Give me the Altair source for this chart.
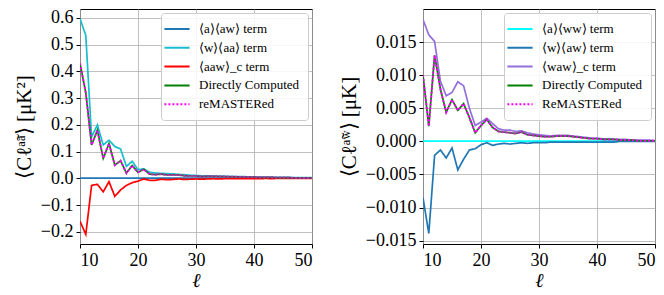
import altair as alt
import pandas as pd

ell = list(range(10, 51))

# Left panel series
left_a_aw = [0.001] * 41
left_w_aa = [0.597, 0.534, 0.155, 0.200, 0.125, 0.143, 0.119, 0.110, 0.045, 0.064,
             0.033, 0.036, 0.023, 0.020, 0.019, 0.018, 0.017, 0.015, 0.014, 0.012,
             0.011, 0.010, 0.010, 0.009, 0.009, 0.008, 0.008, 0.007, 0.007, 0.006,
             0.006, 0.005, 0.005, 0.005, 0.004, 0.004, 0.004, 0.003, 0.003, 0.003, 0.003]
left_aaw_c = [-0.160, -0.209, -0.026, -0.022, -0.050, -0.012, -0.067, -0.043, -0.026, -0.016,
              -0.010, -0.002, -0.007, -0.007, -0.003, -0.005, -0.004, -0.002, -0.004, -0.003,
              -0.002, -0.003, -0.002, -0.001, -0.002, -0.001, -0.001, -0.001, -0.001, -0.001,
              -0.001, -0.001, 0.000, -0.001, 0.000, 0.000, 0.000, 0.000, 0.000, 0.000, 0.000]
left_direct = [0.430, 0.320, 0.125, 0.180, 0.075, 0.130, 0.050, 0.066, 0.020, 0.048,
               0.023, 0.034, 0.016, 0.014, 0.016, 0.013, 0.013, 0.013, 0.010, 0.009,
               0.009, 0.007, 0.008, 0.008, 0.007, 0.007, 0.006, 0.006, 0.005, 0.005,
               0.005, 0.004, 0.004, 0.004, 0.003, 0.003, 0.003, 0.002, 0.002, 0.002, 0.002]
left_remastered = left_direct

# Right panel series
right_a_ww = [0.00003] * 41
right_w_aw = [-0.0085, -0.0139, -0.0021, -0.0013, -0.0025, -0.0010, -0.0043, -0.0027, -0.0013, -0.0011,
              -0.0005, -0.0002, -0.0006, -0.0004, -0.0003, -0.0004, -0.0003, -0.0002, -0.0003, -0.0002,
              -0.0002, -0.0002, -0.0001, -0.0001, -0.0001, -0.0001, -0.0001, -0.0001, -0.0001, -0.0001,
              -0.0001, -0.0001, -0.0001, -0.0001, 0.0000, 0.0000, 0.0000, 0.0000, 0.0000, 0.0000, 0.0000]
right_waw_c = [0.0184, 0.0161, 0.0151, 0.0091, 0.0069, 0.0074, 0.0090, 0.0084, 0.0050, 0.0024,
               0.0029, 0.0035, 0.0027, 0.0019, 0.0017, 0.0017, 0.0015, 0.0016, 0.0013, 0.0011,
               0.0010, 0.0009, 0.0008, 0.0009, 0.0009, 0.0009, 0.0008, 0.0007, 0.0006, 0.0005,
               0.0005, 0.0004, 0.0004, 0.0003, 0.0003, 0.0003, 0.0002, 0.0002, 0.0002, 0.0002, 0.0001]
right_direct = [0.0100, 0.0023, 0.0130, 0.0079, 0.0044, 0.0063, 0.0047, 0.0057, 0.0036, 0.0013,
                0.0024, 0.0033, 0.0021, 0.0015, 0.0014, 0.0013, 0.0012, 0.0014, 0.0010, 0.0009,
                0.0008, 0.0007, 0.0007, 0.0008, 0.0008, 0.0008, 0.0007, 0.0006, 0.0005, 0.0004,
                0.0004, 0.0003, 0.0003, 0.0003, 0.0002, 0.0002, 0.0002, 0.0001, 0.0001, 0.0001, 0.0001]
right_remastered = right_direct

left_names = ["⟨a⟩⟨aw⟩ term", "⟨w⟩⟨aa⟩ term", "⟨aaw⟩_c term", "Directly Computed", "reMASTERed"]
left_colors = ["#1f77b4", "#17becf", "#ff0000", "#008000", "#ff00ff"]
right_names = ["⟨a⟩⟨ww⟩ term", "⟨w⟩⟨aw⟩ term", "⟨waw⟩_c term", "Directly Computed", "ReMASTERed"]
right_colors = ["#00ffff", "#1f77b4", "#9370db", "#008000", "#ff00ff"]

FONT = "Liberation Serif"


def frame(names, series):
    rows = []
    for n, s in zip(names, series):
        for l, v in zip(ell, s):
            rows.append({"ell": l, "val": v, "series": n})
    return pd.DataFrame(rows)


def panel(names, colors, series, ydom, yvals, yfmt, ytitle):
    df = frame(names, series)
    color = alt.Color("series:N", scale=alt.Scale(domain=names, range=colors),
                      legend=alt.Legend(title=None, orient="top-right", offset=4,
                                        symbolType="M-1.8,0L1.8,0", symbolSize=196,
                                        symbolStrokeWidth=2, labelFont=FONT,
                                        labelFontSize=13, rowPadding=3.8,
                                        fillColor="rgba(255,255,255,0.85)",
                                        strokeColor="#cccccc", cornerRadius=3,
                                        padding=8, labelLimit=200, labelOffset=14))
    dash = alt.StrokeDash("series:N",
                          scale=alt.Scale(domain=names,
                                          range=[[1, 0], [1, 0], [1, 0], [1, 0], [2, 2]]),
                          legend=None)
    x = alt.X("ell:Q", scale=alt.Scale(domain=[10, 50], nice=False),
              axis=alt.Axis(values=[10, 20, 30, 40, 50], title="ℓ", titleFontStyle="italic",
                            labelFont=FONT, labelFontSize=18, titleFont=FONT,
                            titleFontSize=20, titlePadding=1))
    y = alt.Y("val:Q", scale=alt.Scale(domain=ydom, nice=False, zero=False),
              axis=alt.Axis(values=yvals, format=yfmt, title=ytitle,
                            labelFont=FONT, labelFontSize=18, titleFont=FONT,
                            titleFontSize=21, titlePadding=6))
    base = alt.Chart(df).encode(x=x, y=y, color=color, strokeDash=dash)
    l1 = base.transform_filter(alt.datum.series != names[4]).mark_line(strokeWidth=1.7, clip=True)
    l2 = base.transform_filter(alt.datum.series == names[4]).mark_line(strokeWidth=2, clip=True)
    return alt.layer(l1, l2).properties(width=232, height=235)


left = panel(left_names, left_colors,
             [left_a_aw, left_w_aa, left_aaw_c, left_direct, left_remastered],
             [-0.245, 0.633], [-0.2, -0.1, 0.0, 0.1, 0.2, 0.3, 0.4, 0.5, 0.6], ".1f",
             "⟨Cℓᵃ̃ᵃ⟩ [μK²]")
right = panel(right_names, right_colors,
              [right_a_ww, right_w_aw, right_waw_c, right_direct, right_remastered],
              [-0.0155, 0.0200], [-0.015, -0.010, -0.005, 0.0, 0.005, 0.010, 0.015], ".3f",
              "⟨Cℓᵃ̃ʷ⟩ [μK]")

chart = alt.hconcat(left, right, spacing=24).resolve_scale(
    color="independent", strokeDash="independent").resolve_legend(
    color="independent").properties(padding={"left": 4, "top": 0, "right": 0, "bottom": 0}).configure_view(
    stroke="black", strokeWidth=1).configure_axis(
    domain=False, grid=True, gridColor="#b0b0b0", gridWidth=0.8,
    tickColor="black", tickSize=4, labelColor="black", titleFontWeight="normal",
    titleColor="black", labelPadding=3)

chart.save("out.html", embed_options={"renderer": "svg", "actions": False})
